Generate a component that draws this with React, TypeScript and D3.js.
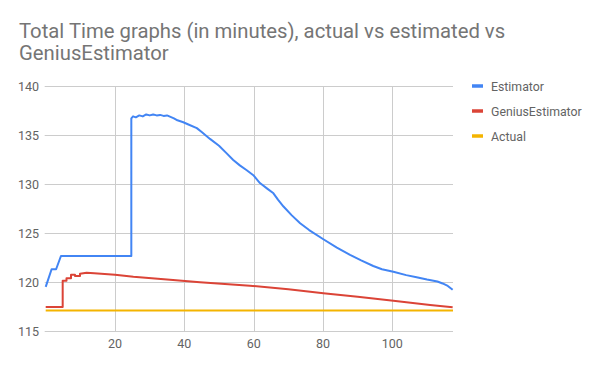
import React, { useEffect, useRef } from "react";
import * as d3 from "d3";

// x (elapsed steps) and value pairs
const estimatorX = [0, 1.7, 3, 4.4, 24.7, 24.7, 25.2, 26, 27, 28, 29, 30, 31, 32, 33, 34, 35, 36, 37, 38, 39.7, 41, 43.6, 45, 47.4, 50, 52, 54.1, 56, 58, 59.9, 61.8, 64, 65.7, 67, 68.6, 71, 73.4, 76, 80.1, 84, 87.8, 91, 94.5, 97, 100.3, 104, 107, 110, 113, 114.5, 116, 117.4];
const estimatorY = [119.5, 121.3, 121.3, 122.65, 122.65, 136.7, 136.9, 136.8, 137.0, 136.9, 137.1, 137.0, 137.1, 137.0, 137.05, 136.95, 137.0, 136.85, 136.7, 136.5, 136.3, 136.1, 135.7, 135.3, 134.6, 133.9, 133.2, 132.45, 131.9, 131.4, 130.9, 130.1, 129.5, 129.05, 128.4, 127.7, 126.8, 126.0, 125.3, 124.36, 123.5, 122.76, 122.2, 121.63, 121.3, 121.05, 120.7, 120.48, 120.25, 120.05, 119.85, 119.6, 119.2];

const geniusX = [0, 4.9, 4.9, 6, 6, 7.3, 7.3, 8.45, 8.45, 9.9, 9.9, 11.8, 14, 20, 25.3, 35, 44.5, 58.9, 70, 80.1, 90, 100.3, 110.9, 117.4];
const geniusY = [117.45, 117.45, 120.13, 120.13, 120.37, 120.37, 120.75, 120.75, 120.62, 120.62, 120.85, 120.95, 120.9, 120.75, 120.54, 120.25, 119.97, 119.62, 119.25, 118.85, 118.5, 118.09, 117.65, 117.42];

const actualX = [0, 117.5];
const actualY = [117.1, 117.1];

const yTicks = [115, 120, 125, 130, 135, 140];
const xTicks = [20, 40, 60, 80, 100];

const seriesNames = ["Estimator", "GeniusEstimator", "Actual"];
const seriesColors = ["#4285f4", "#db4437", "#f4b400"];

export default function App() {
  const ref = useRef<SVGSVGElement>(null);

  useEffect(() => {
    const svg = d3.select(ref.current);
    svg.selectAll("*").remove();

    const left = 45.7, right = 453, top = 86, bottom = 331;
    const font = "Roboto, 'Noto Sans', sans-serif";

    const x = d3.scaleLinear().domain([0, 117.5]).range([left, right]);
    const y = d3.scaleLinear().domain([115, 140]).range([bottom, top]);

    svg.append("rect").attr("width", 600).attr("height", 371).attr("fill", "#fff");

    // title
    const title = svg.append("text")
      .attr("x", 19)
      .style("font-family", font)
      .style("font-size", "20.3px")
      .attr("fill", "#757575");
    title.append("tspan").attr("x", 19).attr("y", 38).text("Total Time graphs (in minutes), actual vs estimated vs");
    title.append("tspan").attr("x", 19).attr("y", 60).text("GeniusEstimator");

    // horizontal grid
    svg.selectAll(".ygrid")
      .data(yTicks)
      .join("line")
      .attr("x1", left - 1)
      .attr("x2", right)
      .attr("y1", d => Math.round(y(d)) + 0.5)
      .attr("y2", d => Math.round(y(d)) + 0.5)
      .attr("stroke", "#cccccc")
      .attr("stroke-width", 1);

    // vertical grid
    svg.selectAll(".xgrid")
      .data(xTicks)
      .join("line")
      .attr("x1", d => Math.round(x(d)) + 0.5)
      .attr("x2", d => Math.round(x(d)) + 0.5)
      .attr("y1", top)
      .attr("y2", bottom)
      .attr("stroke", "#cccccc")
      .attr("stroke-width", 1);

    svg.selectAll(".ylab")
      .data(yTicks)
      .join("text")
      .attr("x", 39)
      .attr("y", d => y(d) + 4.5)
      .attr("text-anchor", "end")
      .style("font-family", font)
      .style("font-size", "12.5px")
      .attr("fill", "#636363")
      .text(d => d);

    svg.selectAll(".xlab")
      .data(xTicks)
      .join("text")
      .attr("x", d => x(d))
      .attr("y", 348)
      .attr("text-anchor", "middle")
      .style("font-family", font)
      .style("font-size", "12.5px")
      .attr("fill", "#636363")
      .text(d => d);

    const line = d3.line<[number, number]>()
      .x(d => x(d[0]))
      .y(d => y(d[1]));

    const series: [number, number][][] = [
      estimatorX.map((v, i) => [v, estimatorY[i]]),
      geniusX.map((v, i) => [v, geniusY[i]]),
      actualX.map((v, i) => [v, actualY[i]]),
    ];

    // draw Actual first, then Genius, then Estimator on top
    [2, 1, 0].forEach(i => {
      svg.append("path")
        .datum(series[i])
        .attr("fill", "none")
        .attr("stroke", seriesColors[i])
        .attr("stroke-width", 2)
        .attr("stroke-linejoin", "round")
        .attr("d", line);
    });

    // legend
    seriesNames.forEach((name, i) => {
      const ly = 86 + i * 25;
      svg.append("line")
        .attr("x1", 472)
        .attr("x2", 483)
        .attr("y1", ly)
        .attr("y2", ly)
        .attr("stroke", seriesColors[i])
        .attr("stroke-width", 3.5);
      svg.append("text")
        .attr("x", 491)
        .attr("y", ly + 4.5)
        .style("font-family", font)
        .style("font-size", "12.3px")
        .attr("fill", "#636363")
        .text(name);
    });
  }, []);

  return (
    <svg ref={ref} width={600} height={371} style={{ position: "absolute", left: 0, top: 0 }} />
  );
}
